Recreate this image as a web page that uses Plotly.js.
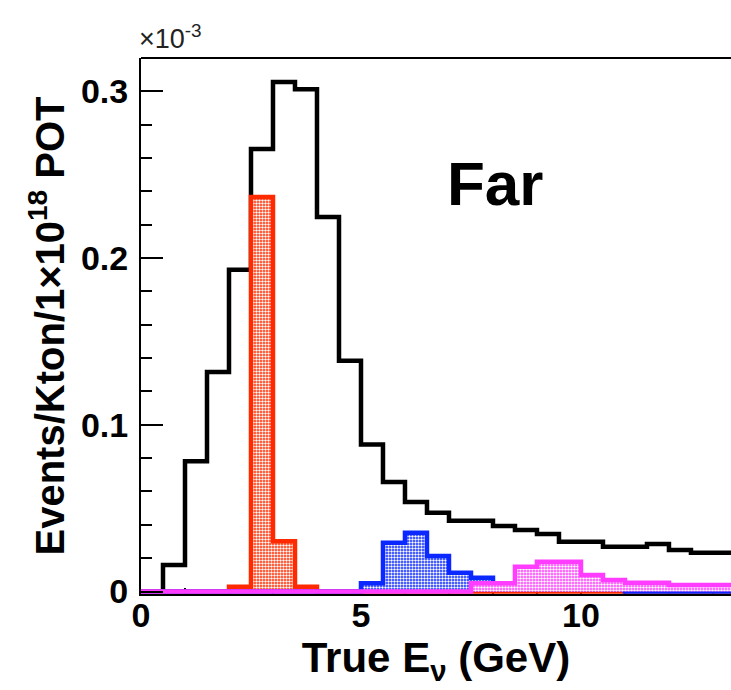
<!DOCTYPE html>
<html>
<head>
<meta charset="utf-8">
<script src="https://cdn.plot.ly/plotly-3.0.1.min.js"></script>
<style>html,body{margin:0;padding:0;background:#fff;}#plot{width:731px;height:690px;}</style>
</head>
<body>
<div id="plot"></div>
<script>
// Bin lower edges (GeV), bin width 0.5
const binEdges = [0,0.5,1,1.5,2,2.5,3,3.5,4,4.5,5,5.5,6,6.5,7,7.5,8,8.5,9,9.5,10,10.5,11,11.5,12,12.5,13,13.5];
// Values in units of 1e-3 events/kton/1e18 POT (one per bin)
const totalVals   = [0,0.0159,0.0781,0.1317,0.193,0.2654,0.3056,0.3013,0.2247,0.1384,0.0881,0.0657,0.0537,0.0473,0.0425,0.0425,0.0393,0.0369,0.0345,0.0299,0.0299,0.0269,0.0269,0.0285,0.0249,0.0233,0.0233];
const redVals     = [0,0,0,0,0.0029,0.2367,0.0301,0.0029,0,0,0,0,0,0,0,0,0,0,0,0,0,0,0,0,0,0,0];
const blueVals    = [0,0,0,0,0,0,0,0,0,0,0.0049,0.0293,0.0353,0.0213,0.0113,0.0083,0.0029,0.0029,0.0029,0.0029,0.0029,0.0029,0,0,0,0,0];
const magentaVals = [0,0,0,0,0,0,0,0,0,0,0,0,0,0,0,0.0049,0.0049,0.0149,0.0179,0.0179,0.0099,0.0069,0.0053,0.0053,0.0039,0.0039,0.0039];
const yTickVals = [0,0.1,0.2,0.3];
const yTickText = ["0","0.1","0.2","0.3"];
const xTickVals = [0,5,10];
const xTickText = ["0","5","10"];

function stepY(v){ return v.concat([v[v.length-1]]); }

function hist(vals, color, pattern){
  const t = {
    type:'scatter', mode:'lines', x: binEdges, y: stepY(vals),
    line:{shape:'hv', color: color, width: 4.5},
    hoverinfo:'skip', showlegend:false
  };
  if (pattern){
    t.fill = 'tozeroy';
    t.fillpattern = {shape:'.', bgcolor: color, fgcolor:'#ffffff', size:3, solidity:0.5};
  }
  return t;
}

const data = [
  hist(totalVals, '#000000', false),
  hist(redVals, '#ff2a00', true),
  hist(blueVals, '#0a28ff', true),
  hist(magentaVals, '#ff3cff', true)
];

const fontFam = '"Liberation Sans", Arial, Helvetica, sans-serif';

const layout = {
  width:731, height:690,
  margin:{l:141, r:0, t:58, b:96},
  paper_bgcolor:'#ffffff', plot_bgcolor:'#ffffff',
  xaxis:{
    range:[0,13.41], showgrid:false, zeroline:false, layer:'below traces',
    showline:true, linecolor:'#000', linewidth:2, mirror:false,
    ticks:'inside', ticklen:13, tickwidth:2, tickcolor:'#000',
    tickvals:xTickVals, ticktext:xTickText,
    minor:{dtick:1, ticks:'inside', ticklen:6, tickwidth:2, tickcolor:'#000'},
    tickfont:{family:fontFam, size:34, color:'#000', weight:'bold'},
    ticklabelstandoff:-10,
    title:{text:'True E<sub>ν</sub> (GeV)', font:{family:fontFam, size:42, color:'#000', weight:'bold'}, standoff:2}
  },
  yaxis:{
    range:[-0.0015,0.32], showgrid:false, zeroline:false,
    showline:true, linecolor:'#000', linewidth:2, mirror:false,
    ticks:'inside', ticklen:22, tickwidth:2, tickcolor:'#000',
    tickvals:yTickVals, ticktext:yTickText,
    minor:{dtick:0.02, ticks:'inside', ticklen:11, tickwidth:2, tickcolor:'#000'},
    tickfont:{family:fontFam, size:34, color:'#000', weight:'bold'},
    ticklabelstandoff:4,
    title:{text:'Events/Kton/1×10<sup>18</sup> POT', font:{family:fontFam, size:40, color:'#000', weight:'bold'}, standoff:4}
  },
  shapes:[
    {type:'line', xref:'paper', yref:'paper', x0:0, x1:1, y0:1, y1:1, line:{color:'#000', width:2}}
  ],
  annotations:[
    {text:'Far', xref:'x', yref:'y', x:8.05, y:0.245, showarrow:false, xanchor:'center', yanchor:'middle',
     font:{family:fontFam, size:62, color:'#000', weight:'bold'}},
    {text:'×10<sup>-3</sup>', xref:'paper', yref:'paper', x:0, y:1, xanchor:'left', yanchor:'bottom', yshift:2, xshift:-4, showarrow:false,
     font:{family:fontFam, size:27, color:'#222'}}
  ]
};

Plotly.newPlot('plot', data, layout, {displayModeBar:false, staticPlot:true});
</script>
</body>
</html>
